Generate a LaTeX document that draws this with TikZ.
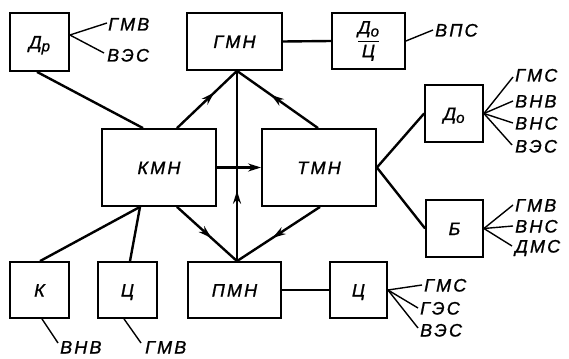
\documentclass[tikz,border=0pt]{standalone}
\usepackage{amsmath}
\usepackage{fontspec}
\setmainfont{Liberation Sans}[LetterSpace=12,FakeBold=1.2]
\usetikzlibrary{arrows.meta,decorations.markings}
\newcommand\sbx[1]{\raisebox{-0.3ex}{\fontsize{15}{15}\selectfont #1}}
\tikzset{
  blk/.style={draw, line width=1.8pt, inner sep=0pt, text height=13pt, text depth=0pt,
    font=\fontsize{18}{20}\selectfont\itshape},
  conn/.style={line width=2.4pt},
  lead/.style={line width=1.4pt},
  lbl/.style={anchor=west, inner sep=0pt, text height=13pt, text depth=0pt,
    font=\fontsize{18}{20}\selectfont\itshape},
  midarrow/.style={postaction={decorate}, decoration={markings,
    mark=at position #1 with {\arrow{Stealth[length=13pt,width=8pt]}}}}
}
\begin{document}
\begin{tikzpicture}[x=1pt,y=-1pt]
\useasboundingbox (0,0) rectangle (569,358);
% boxes
\node[blk, minimum width=59pt, minimum height=58pt] (dr) at (39.5,42) {Д\sbx{р}};
\node[blk, minimum width=95pt, minimum height=57pt] (gmn) at (234.5,41.5) {ГМН};
\node[blk, minimum width=73pt, minimum height=56pt, text height=, text depth=] (doc) at (368.5,41)
  {$\dfrac{\text{\itshape Д\sbx{о}}}{\text{\itshape Ц}}$};
\node[blk, minimum width=114pt, minimum height=77pt] (kmn) at (159,167.5) {КМН};
\node[blk, minimum width=114pt, minimum height=77pt] (tmn) at (319,167.5) {ТМН};
\node[blk, minimum width=58pt, minimum height=57pt] (do) at (454,113.5) {Д\sbx{о}};
\node[blk, minimum width=57pt, minimum height=57pt] (b) at (454.5,228.5) {Б};
\node[blk, minimum width=59pt, minimum height=56pt] (k) at (39.5,290) {К};
\node[blk, minimum width=59pt, minimum height=56pt] (c1) at (127.5,290) {Ц};
\node[blk, minimum width=93pt, minimum height=56pt] (pmn) at (234.5,290) {ПМН};
\node[blk, minimum width=57pt, minimum height=56pt] (c2) at (358.5,290) {Ц};
% main connectors
\draw[conn] ([xshift=-2.5pt]dr.south) -- ([xshift=-16pt]kmn.north);
\draw[conn, midarrow=0.62] ([xshift=18pt]kmn.north) -- ([xshift=2.5pt]gmn.south);
\draw[conn, midarrow=0.58] ([xshift=-1pt]tmn.north) -- ([xshift=2.5pt]gmn.south);
\draw[conn, midarrow=0.37] ([xshift=2.5pt]pmn.north) -- ([xshift=2.5pt]gmn.south);
\draw[conn, -{Stealth[length=13pt,width=8pt]}] (kmn.east) -- (tmn.west);
\draw[conn, midarrow=0.57] ([xshift=18pt]kmn.south) -- ([xshift=2.5pt]pmn.north);
\draw[conn, midarrow=0.57] ([xshift=1pt]tmn.south) -- ([xshift=2.5pt]pmn.north);
\draw[conn] ([xshift=-19pt]kmn.south) -- ([xshift=0.5pt]k.north);
\draw[conn] ([xshift=-19pt]kmn.south) -- ([xshift=2.5pt]c1.north);
\draw[conn] (tmn.east) -- (do.west);
\draw[conn] (tmn.east) -- (b.west);
\draw[conn] (gmn.east) -- (doc.west);
\draw[conn] (pmn.east) -- (c2.west);
% labels
\node[lbl] (l1) at (108,24) {ГМВ};
\node[lbl] (l2) at (107,55) {ВЭС};
\node[lbl] (l3) at (435,30) {ВПС};
\node[lbl] (l4) at (515,75) {ГМС};
\node[lbl] (l5) at (515,101) {ВНВ};
\node[lbl] (l6) at (515,123) {ВНС};
\node[lbl] (l7) at (515,146) {ВЭС};
\node[lbl] (l8) at (515,205) {ГМВ};
\node[lbl] (l9) at (515,226) {ВНС};
\node[lbl] (l10) at (515,246) {ДМС};
\node[lbl] (l11) at (424,285) {ГМС};
\node[lbl] (l12) at (420,308) {ГЭС};
\node[lbl] (l13) at (420,330) {ВЭС};
\node[lbl] (l14) at (60,347) {ВНВ};
\node[lbl] (l15) at (145,347) {ГМВ};
% leaders
\draw[lead] ([yshift=7pt]dr.east) -- ([xshift=-1pt,yshift=1pt]l1.west);
\draw[lead] ([yshift=7pt]dr.east) -- ([xshift=-3pt,yshift=2pt]l2.west);
\draw[lead] (doc.east) -- ([xshift=-2pt]l3.west);
\draw[lead] (do.east) -- ([xshift=-2pt,yshift=-2pt]l4.west);
\draw[lead] (do.east) -- ([xshift=-2pt]l5.west);
\draw[lead] (do.east) -- ([xshift=-2pt]l6.west);
\draw[lead] (do.east) -- ([xshift=-3pt,yshift=1pt]l7.west);
\draw[lead] (b.east) -- ([xshift=-2pt]l8.west);
\draw[lead] (b.east) -- ([xshift=-2pt]l9.west);
\draw[lead] (b.east) -- ([xshift=-3pt]l10.west);
\draw[lead] (c2.east) -- ([xshift=-2pt]l11.west);
\draw[lead] (c2.east) -- ([xshift=-2pt]l12.west);
\draw[lead] (c2.east) -- ([xshift=-2pt,yshift=2pt]l13.west);
\draw[lead] ([xshift=2.5pt]k.south) -- ([xshift=-2pt,yshift=4pt]l14.west);
\draw[lead] ([xshift=-3.5pt]c1.south) -- ([xshift=-4pt,yshift=4pt]l15.west);
\end{tikzpicture}
\end{document}
